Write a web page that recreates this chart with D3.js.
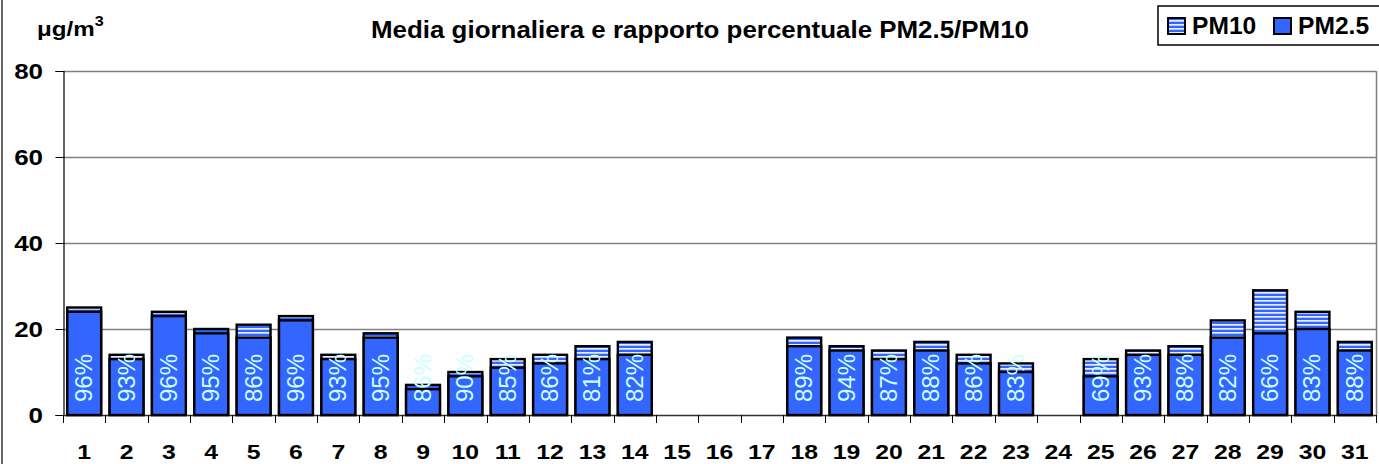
<!DOCTYPE html>
<html><head><meta charset="utf-8">
<script src="https://cdn.jsdelivr.net/npm/d3@7"></script>
<style>body{margin:0;background:#fff}svg{display:block}text{font-family:Arial,"Liberation Sans",sans-serif}</style>
</head><body><svg id="c" width="1379" height="464"></svg>
<script>
const days = d3.range(1, 32).map(String);
const pm10 = [25,14,24,20,21,23,14,19,7,10,13,14,16,17,null,null,null,18,16,15,17,14,12,null,13,15,16,22,29,24,17];
const pm25 = [24,13,23,19,18,22,13,18,6,9,11,12,13,14,null,null,null,16,15,13,15,12,10,null,9,14,14,18,19,20,15];
const ratioLabels = ["96%","93%","96%","95%","86%","96%","93%","95%","86%","90%","85%","86%","81%","82%",null,null,null,"89%","94%","87%","88%","86%","83%",null,"69%","93%","88%","82%","66%","83%","88%"];
const yTicks = [0,20,40,60,80];
const seriesNames = ["PM10","PM2.5"];

const svg = d3.select("#c");
const L = 63, R = 1376, T = 71, B = 415;
const x = d3.scaleBand().domain(days).range([L, R]).paddingInner(0.2).paddingOuter(0.1);
const y = d3.scaleLinear().domain([0, 80]).range([B, T]);
const blue = "#3366ff";

const defs = svg.append("defs");
const pat = defs.append("pattern").attr("id","hatch").attr("patternUnits","userSpaceOnUse").attr("width",8).attr("height",4);
pat.append("rect").attr("width",8).attr("height",4).attr("fill",blue);
pat.append("rect").attr("y",0).attr("width",8).attr("height",1.7).attr("fill","#e8eeff");

// stretched text helper
function stext(parent, tx, ty, str, size, sx, anchor, bold) {
  return parent.append("text").attr("transform",`translate(${tx},${ty}) scale(${sx},1)`)
    .attr("text-anchor",anchor||"start").attr("font-size",size)
    .attr("font-weight",bold===false?"normal":"bold").text(str);
}

// outer border
svg.append("line").attr("x1",2).attr("x2",2).attr("y1",0).attr("y2",464).attr("stroke","#000").attr("stroke-width",1.2);

// gridlines
svg.append("g").selectAll("line").data(yTicks.filter(d=>d>0)).join("line")
  .attr("x1",L).attr("x2",R).attr("y1",d=>Math.round(y(d))+0.5).attr("y2",d=>Math.round(y(d))+0.5)
  .attr("stroke","#808080").attr("stroke-width",1.3);
svg.append("line").attr("x1",R+0.5).attr("x2",R+0.5).attr("y1",T).attr("y2",B).attr("stroke","#808080").attr("stroke-width",1.5);

// y axis
const yAxis = svg.append("g").attr("transform",`translate(${L+0.5},0)`)
  .call(d3.axisLeft(y).tickValues(yTicks).tickSize(8).tickFormat(""));
yAxis.select(".domain").attr("stroke","#000").attr("stroke-width",1.2);
yAxis.selectAll(".tick line").attr("stroke","#000");
const ylab = svg.append("g");
yTicks.forEach(v => stext(ylab, 43, y(v)+8, d3.format("d")(v), 22, 1.18, "end"));

// x axis line and ticks at boundaries
svg.append("line").attr("x1",L).attr("x2",R).attr("y1",B+0.5).attr("y2",B+0.5).attr("stroke","#333").attr("stroke-width",1.3);
const step = x.step();
svg.append("g").selectAll("line").data(d3.range(0,32)).join("line")
  .attr("x1",i=>Math.round(L+i*step)+0.5).attr("x2",i=>Math.round(L+i*step)+0.5)
  .attr("y1",B).attr("y2",B+8).attr("stroke","#000").attr("stroke-width",1);
const xlab = svg.append("g");
days.forEach(d => stext(xlab, x(d)+x.bandwidth()/2, 459, d, 21, 1.18, "middle"));

// bars
const idx = d3.range(days.length);
const g = svg.append("g");
g.selectAll("rect.pm10").data(idx.filter(i=>pm10[i]!=null)).join("rect").attr("class","pm10")
  .attr("x",i=>x(days[i])).attr("width",x.bandwidth())
  .attr("y",i=>y(pm10[i])).attr("height",i=>y(0)-y(pm10[i]))
  .attr("fill","url(#hatch)").attr("stroke","#000").attr("stroke-width",2.4);
g.selectAll("rect.pm25").data(idx.filter(i=>pm25[i]!=null)).join("rect").attr("class","pm25")
  .attr("x",i=>x(days[i])).attr("width",x.bandwidth())
  .attr("y",i=>y(pm25[i])).attr("height",i=>y(0)-y(pm25[i]))
  .attr("fill",blue).attr("stroke","#000").attr("stroke-width",2.4);

// ratio labels
g.selectAll("text.lab").data(idx.filter(i=>ratioLabels[i]!=null)).join("text").attr("class","lab")
  .attr("transform",i=>`translate(${x(days[i])+x.bandwidth()/2+8},${B-13}) rotate(-90)`)
  .attr("font-size",24).attr("fill","#ccffff").text(i=>ratioLabels[i]);

// title
stext(svg, 700, 38, "Media giornaliera e rapporto percentuale PM2.5/PM10", 24, 1.08, "middle");

// y unit label
const yl = svg.append("text").attr("transform","translate(37,36) scale(1.15,1)").attr("font-size",21).attr("font-weight","bold");
yl.append("tspan").text("μg/m");
yl.append("tspan").attr("font-size",14).attr("dy",-10).text("3");

// legend
const lg = svg.append("g");
lg.append("rect").attr("x",1158).attr("y",6).attr("width",240).attr("height",39).attr("fill","#fff").attr("stroke","#000").attr("stroke-width",1.5);
const lx = [1168, 1274];
const lfill = ["url(#hatch)", blue];
seriesNames.forEach((n,i)=>{
  lg.append("rect").attr("x",lx[i]).attr("y",18).attr("width",17).attr("height",16).attr("fill",lfill[i]).attr("stroke","#000").attr("stroke-width",2);
  stext(lg, lx[i]+24, 34, n, 23, 1.07, "start");
});
</script></body></html>
